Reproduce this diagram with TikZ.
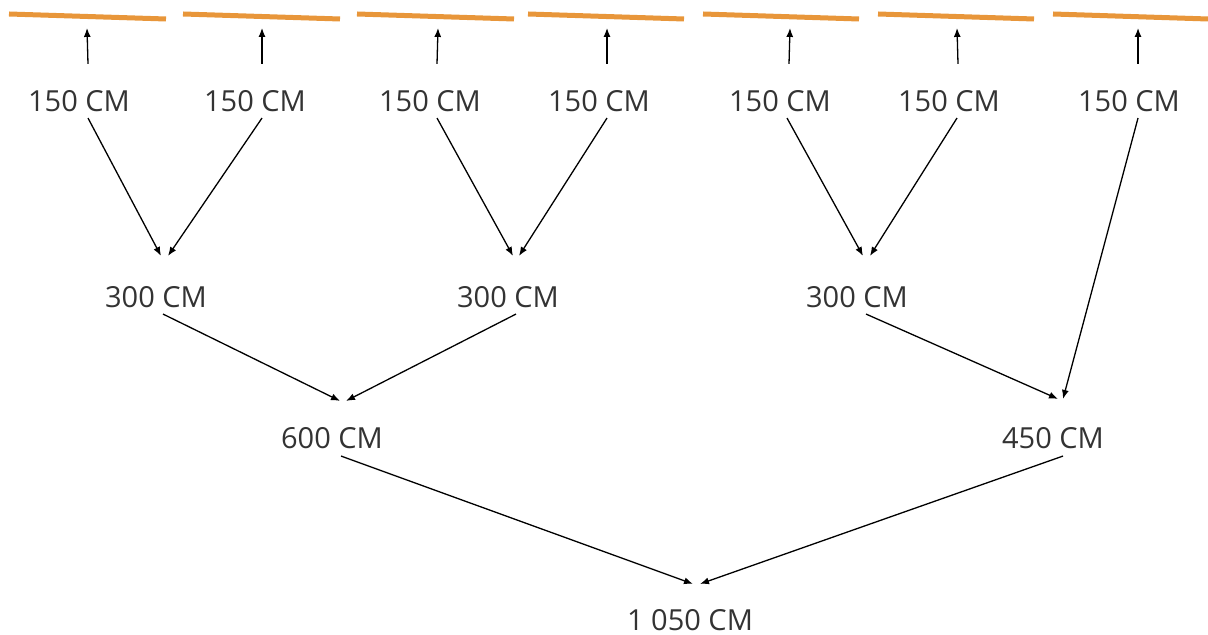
\documentclass[tikz,border=0pt]{standalone}
\usepackage{fontspec}
\setmainfont{Open Sans}
\usetikzlibrary{positioning,calc,arrows.meta}
\definecolor{plank}{HTML}{E8963A}
\definecolor{labelgray}{HTML}{333333}

\begin{document}
\begin{tikzpicture}[
    x=0.5pt, y=-0.5pt,
    every node/.style={inner sep=0, text=labelgray, font=\fontsize{14.5}{17}\selectfont},
    bar/.style={plank, line width=2.5pt},
    link/.style={-{Latex[length=4.5pt,width=3.5pt]}, line width=0.65pt}
]
\useasboundingbox (0,0) rectangle (1208,635);

% planks
\draw[bar] (9,14) -- (166,19);
\draw[bar] (183,14) -- (340,19);
\draw[bar] (357,14) -- (514,19);
\draw[bar] (528,14) -- (684,19);
\draw[bar] (703,14) -- (859,19);
\draw[bar] (878,14) -- (1034,19);
\draw[bar] (1053,14) -- (1208,19);

% lengths
\node (p1) at (79,101) {150 CM};
\node (p2) at (255,101) {150 CM};
\node (p3) at (430,101) {150 CM};
\node (p4) at (599,101) {150 CM};
\node (p5) at (780,101) {150 CM};
\node (p6) at (949,101) {150 CM};
\node (p7) at (1129,101) {150 CM};
\node (q1) at (156,297) {300 CM};
\node (q2) at (508,297) {300 CM};
\node (q3) at (857,297) {300 CM};
\node (r1) at (332,438) {600 CM};
\node (r2) at (1053,438) {450 CM};
\node (total) at (690,620) {1 050 CM};

% up to the planks
\draw[link] ($(p1.north)+(9,-26)$) -- ($(p1.north)+(8,-62)$) ;
\draw[link] ($(p2.north)+(7,-26)$) -- ($(p2.north)+(7,-62)$) ;
\draw[link] ($(p3.north)+(7,-26)$) -- ($(p3.north)+(8,-62)$) ;
\draw[link] ($(p4.north)+(8,-26)$) -- ($(p4.north)+(8,-62)$) ;
\draw[link] ($(p5.north)+(9,-26)$) -- ($(p5.north)+(10,-62)$) ;
\draw[link] ($(p6.north)+(9,-26)$) -- ($(p6.north)+(8,-62)$) ;
\draw[link] ($(p7.north)+(9,-26)$) -- ($(p7.north)+(9,-62)$) ;

% joins
\draw[link] ($(p1.south)+(9,6)$) -- ($(q1.north)+(5,-30)$) ;
\draw[link] ($(p2.south)+(7,6)$) -- ($(q1.north)+(12,-30)$) ;
\draw[link] ($(p3.south)+(7,6)$) -- ($(q2.north)+(5,-30)$) ;
\draw[link] ($(p4.south)+(8,6)$) -- ($(q2.north)+(11,-30)$) ;
\draw[link] ($(p5.south)+(7,6)$) -- ($(q3.north)+(6,-30)$) ;
\draw[link] ($(p6.south)+(8,6)$) -- ($(q3.north)+(13,-30)$) ;
\draw[link] ($(p7.south)+(9,6)$) -- ($(r2.north)+(10,-28)$) ;
\draw[link] ($(q1.south)+(7,6)$) -- ($(r1.north)+(8,-26)$) ;
\draw[link] ($(q2.south)+(8,6)$) -- ($(r1.north)+(14,-26)$) ;
\draw[link] ($(q3.south)+(9,6)$) -- ($(r2.north)+(5,-28)$) ;
\draw[link] ($(r1.south)+(9,7)$) -- ($(total.north)+(3,-25)$) ;
\draw[link] ($(r2.south)+(10,7)$) -- ($(total.north)+(10,-25)$) ;
\end{tikzpicture}
\end{document}
